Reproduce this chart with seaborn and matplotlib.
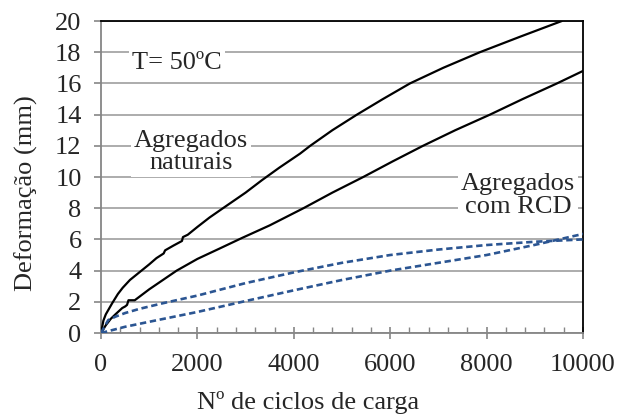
import matplotlib
matplotlib.use("Agg")
import matplotlib.pyplot as plt
import seaborn as sns
import pandas as pd
from matplotlib.ticker import MultipleLocator

# Data
nat_upper_x = [0, 50, 100, 230, 350, 450, 600, 800, 1000, 1150, 1300, 1330, 1500, 1680, 1700, 1800, 2000, 2250, 2530, 3000, 3340, 3700, 4130, 4340, 4800, 5310, 5850, 6410, 7100, 7860, 8700, 9560]
nat_upper_y = [0, 0.8, 1.2, 1.9, 2.5, 2.9, 3.4, 3.9, 4.4, 4.8, 5.1, 5.3, 5.6, 5.9, 6.15, 6.3, 6.8, 7.4, 8.0, 9.0, 9.8, 10.6, 11.5, 12.0, 13.0, 14.0, 15.0, 16.0, 17.0, 18.0, 19.0, 20.0]
nat_lower_x = [0, 100, 200, 300, 440, 500, 540, 570, 700, 1000, 1570, 2000, 2450, 2930, 3500, 4200, 4800, 5440, 6050, 6680, 7350, 8070, 8750, 9460, 10000]
nat_lower_y = [0, 0.5, 0.9, 1.2, 1.6, 1.7, 1.8, 2.1, 2.1, 2.8, 4.0, 4.75, 5.4, 6.1, 6.9, 8.0, 9.0, 10.0, 11.0, 12.0, 13.0, 14.0, 15.0, 16.0, 16.8]
rcd_upper_x = [0, 150, 300, 500, 800, 1270, 2000, 3000, 4020, 5000, 6000, 7000, 8000, 9000, 10000]
rcd_upper_y = [0, 0.83, 1.05, 1.28, 1.55, 1.9, 2.4, 3.2, 3.9, 4.5, 5.0, 5.35, 5.64, 5.85, 6.0]
rcd_lower_x = [0, 500, 1000, 2000, 3000, 4020, 5000, 6000, 7000, 8000, 9000, 10000]
rcd_lower_y = [0, 0.4, 0.72, 1.35, 2.05, 2.75, 3.4, 4.0, 4.5, 5.0, 5.65, 6.35]

x_ticks = [0, 2000, 4000, 6000, 8000, 10000]
y_ticks = [0, 2, 4, 6, 8, 10, 12, 14, 16, 18, 20]

sns.set_style("white")
plt.rcParams['font.family'] = ['Liberation Serif', 'DejaVu Serif']

fig = plt.figure(figsize=(6.17, 4.17), dpi=100)
ax = fig.add_axes([0.1637, 0.2014, 0.7812, 0.7482])

black = "#000000"
blue = "#2B5592"
for xs, ys, c, style, lw in [(nat_upper_x, nat_upper_y, black, None, 1.6),
                             (nat_lower_x, nat_lower_y, black, None, 1.6),
                             (rcd_upper_x, rcd_upper_y, blue, (2.4, 1.4), 1.9),
                             (rcd_lower_x, rcd_lower_y, blue, (2.4, 1.4), 1.9)]:
    df = pd.DataFrame({"x": xs, "y": ys})
    sns.lineplot(data=df, x="x", y="y", ax=ax, color=c, lw=lw,
                 sort=False, estimator=None, zorder=3)
    l = ax.lines[-1]
    l.set_solid_joinstyle("round")
    if style is not None:
        l.set_dashes(style)
        l.set_dash_capstyle("butt")

ax.set_xlim(0, 10000)
ax.set_ylim(0, 20)
ax.set_xticks(x_ticks)
ax.set_yticks(y_ticks)
ax.xaxis.set_minor_locator(MultipleLocator(400))
ax.yaxis.grid(True, color="#A6A6A6", lw=1.3, zorder=0)
ax.xaxis.grid(False)
ax.set_axisbelow(True)

gray = "#868686"
ax.spines['left'].set_color(gray)
ax.spines['bottom'].set_color(gray)
ax.spines['top'].set_color(black)
ax.spines['right'].set_color(black)
for s in ax.spines.values():
    s.set_linewidth(1.3)

ax.tick_params(axis='y', which='major', direction='out', length=5, width=1.2, color=gray,
               labelsize=19, pad=9, left=True)
ax.tick_params(axis='x', which='major', direction='inout', length=8, width=1.2, color=gray,
               labelsize=19, pad=11, bottom=True)
ax.tick_params(axis='x', which='minor', direction='in', length=4, width=1.0, color=gray, bottom=True)

ax.set_xlabel("Nº de ciclos de carga", fontsize=19)
ax.set_ylabel("Deformação (mm)", fontsize=19)
ax.xaxis.set_label_coords(0.429, -0.186)
ax.yaxis.set_label_coords(-0.131, 0.449)

bbox = dict(facecolor="white", edgecolor="none", pad=2)
ax.text(1580, 17.3, "T= 50ºC", fontsize=19, ha="center", va="center", bbox=bbox, zorder=4)
ax.text(1870, 11.6, "Agregados\nnaturais", fontsize=19, ha="center", va="center",
        linespacing=1.05, bbox=bbox, zorder=4)
ax.text(8650, 8.8, "Agregados\ncom RCD", fontsize=19, ha="center", va="center",
        linespacing=1.05, bbox=bbox, zorder=4)

fig.savefig("out.png", dpi=100)
